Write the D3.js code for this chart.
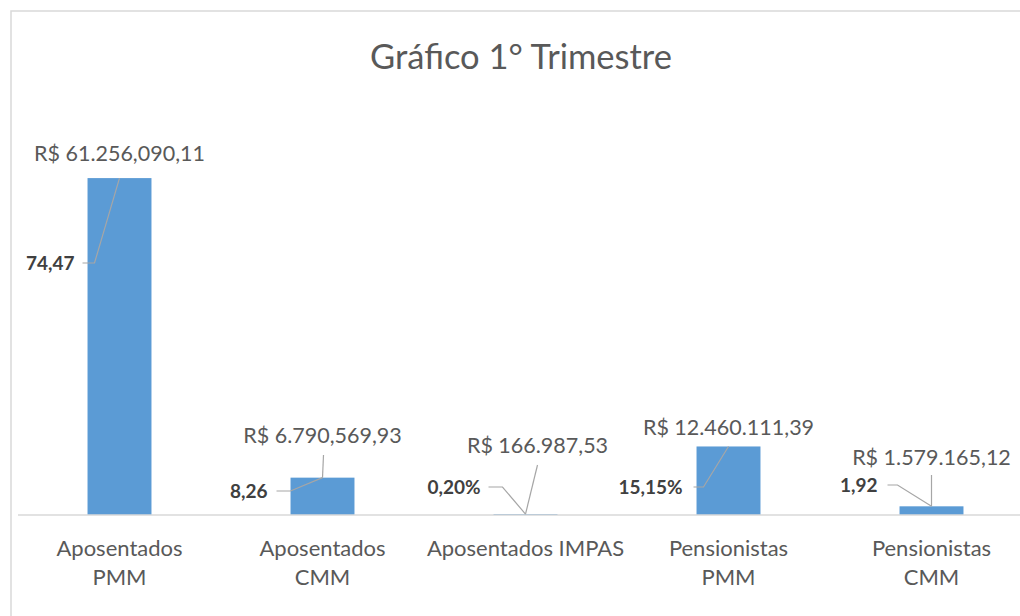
<!DOCTYPE html>
<html>
<head>
<meta charset="utf-8">
<script src="https://cdn.jsdelivr.net/npm/d3@7"></script>
<style>
  body { margin: 0; background: #fff; }
  svg { display: block; font-family: Lato, "Open Sans", sans-serif; }
</style>
</head>
<body>
<div id="chart"></div>
<script>
// data
var categories = [["Aposentados", "PMM"], ["Aposentados", "CMM"], ["Aposentados IMPAS"], ["Pensionistas", "PMM"], ["Pensionistas", "CMM"]];
var values = [61256090.11, 6790569.93, 166987.53, 12460111.39, 1579165.12];
var valueLabels = ["R$ 61.256,090,11", "R$ 6.790,569,93", "R$ 166.987,53", "R$ 12.460.111,39", "R$ 1.579.165,12"];
var percentLabels = ["74,47", "8,26", "0,20%", "15,15%", "1,92"];

// label placement, relative to bar centre and baseline
// v: value label, vl: start of its leader (null = none), p: right end of percent label, pl: leader start, pk: knee
var labelLayout = [
  { v: [0, -362], vl: null,      p: [-45, -252], pl: [-37, -252], pk: [-25, -252] },
  { v: [0, -80],  vl: [1, -60],  p: [-55, -24],  pl: [-46, -24],  pk: [-32, -24] },
  { v: [12, -70], vl: [12, -50], p: [-45, -28],  pl: [-37, -28],  pk: [-23, -28] },
  { v: [0, -88],  vl: null,      p: [-46, -28],  pl: [-35, -28],  pk: [-25, -28] },
  { v: [0, -58],  vl: [0, -40],  p: [-54, -30],  pl: [-44, -30],  pk: [-34, -30] }
];

var W = 1020, H = 616;
var svg = d3.select("#chart").append("svg").attr("width", W).attr("height", H);

// chart frame
svg.append("rect")
  .attr("x", 11).attr("y", 11).attr("width", W).attr("height", H)
  .attr("fill", "none").attr("stroke", "#d9d9d9").attr("stroke-width", 1.5);

svg.append("text")
  .attr("x", 521).attr("y", 57).attr("dy", "0.35em")
  .attr("text-anchor", "middle")
  .attr("font-size", 34.5).attr("fill", "#595959")
  .text("Gráfico 1° Trimestre");

var idx = d3.range(values.length);
var x = d3.scaleBand().domain(idx).range([18, 1033]).paddingInner(0.685).paddingOuter(0.3425);
var y = d3.scaleLinear().domain([0, 70000000]).range([515, 130]);
var base = y(0);

svg.append("g").selectAll("rect").data(idx).join("rect")
  .attr("x", function(i) { return x(i); })
  .attr("width", x.bandwidth())
  .attr("y", function(i) { return y(values[i]); })
  .attr("height", function(i) { return base - y(values[i]); })
  .attr("fill", "#5b9bd5");

// baseline
svg.append("line")
  .attr("x1", 18).attr("x2", W).attr("y1", base).attr("y2", base)
  .attr("stroke", "#d9d9d9").attr("stroke-width", 1.5);

// category labels
var cat = svg.append("g").selectAll("text").data(idx).join("text")
  .attr("text-anchor", "middle")
  .attr("font-size", 22).attr("fill", "#595959")
  .attr("x", function(i) { return x(i) + x.bandwidth() / 2; })
  .attr("y", 556);
cat.each(function(i) {
  var t = d3.select(this);
  categories[i].forEach(function(line, k) {
    t.append("tspan").attr("x", x(i) + x.bandwidth() / 2).attr("dy", k ? 29 : 0).text(line);
  });
});

// data labels with leader lines
var lbl = svg.append("g");
idx.forEach(function(i) {
  var cx = x(i) + x.bandwidth() / 2, top = y(values[i]), L = labelLayout[i];
  var line = d3.line();

  if (L.vl) {
    lbl.append("path")
      .attr("d", line([[cx + L.vl[0], base + L.vl[1]], [cx, top]]))
      .attr("fill", "none").attr("stroke", "#a6a6a6").attr("stroke-width", 1.2);
  }
  lbl.append("path")
    .attr("d", line([[cx + L.pl[0], base + L.pl[1]], [cx + L.pk[0], base + L.pk[1]], [cx, top]]))
    .attr("fill", "none").attr("stroke", "#a6a6a6").attr("stroke-width", 1.2);

  lbl.append("text")
    .attr("x", cx + L.v[0]).attr("y", base + L.v[1]).attr("dy", "0.35em")
    .attr("text-anchor", "middle")
    .attr("font-size", 21.5).attr("fill", "#595959")
    .text(valueLabels[i]);

  lbl.append("text")
    .attr("x", cx + L.p[0]).attr("y", base + L.p[1]).attr("dy", "0.35em")
    .attr("text-anchor", "end")
    .attr("font-size", 19).attr("font-weight", "bold").attr("fill", "#404040")
    .text(percentLabels[i]);
});
</script>
</body>
</html>
